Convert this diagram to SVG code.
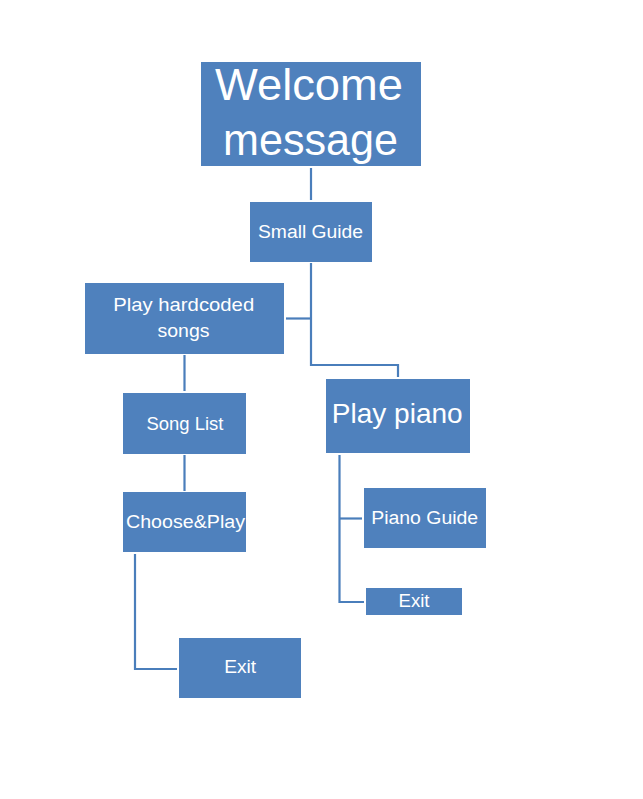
<svg xmlns="http://www.w3.org/2000/svg" width="643" height="799" viewBox="0 0 643 799">
<style>
.box{fill:#4F81BD}
.t{fill:#ffffff;font-family:"Liberation Sans",Arial,sans-serif;text-anchor:middle}
.c{fill:none;stroke:#4A7EBB;stroke-width:2.2}
</style>
<rect x="0" y="0" width="643" height="799" fill="#ffffff"/>
<g id="connectors">
<path class="c" d="M311,168 V200"/>
<path class="c" d="M311,263 V365 H398 V377"/>
<path class="c" d="M286,318.5 H311"/>
<path class="c" d="M184.5,355 V391"/>
<path class="c" d="M184.5,455 V491"/>
<path class="c" d="M135,554 V669 H177"/>
<path class="c" d="M339.5,455 V602 H364"/>
<path class="c" d="M339.5,518.5 H362"/>
</g>
<g id="welcome">
<rect class="box" x="201" y="62" width="220" height="104"/>
<text class="t" x="309" y="100" font-size="45" textLength="188" lengthAdjust="spacingAndGlyphs">Welcome</text>
<text class="t" x="310.5" y="155" font-size="45" textLength="175" lengthAdjust="spacingAndGlyphs">message</text>
</g>
<g id="small-guide">
<rect class="box" x="250" y="202" width="122" height="60"/>
<text class="t" x="310.5" y="237.5" font-size="18" textLength="105" lengthAdjust="spacingAndGlyphs">Small Guide</text>
</g>
<g id="play-hardcoded">
<rect class="box" x="85" y="283" width="199" height="71"/>
<text class="t" x="183.7" y="311" font-size="19" textLength="141" lengthAdjust="spacingAndGlyphs">Play hardcoded</text>
<text class="t" x="183.5" y="336.5" font-size="19" textLength="52" lengthAdjust="spacingAndGlyphs">songs</text>
</g>
<g id="play-piano">
<rect class="box" x="326" y="379" width="144" height="74"/>
<text class="t" x="397.2" y="423.3" font-size="28" textLength="131" lengthAdjust="spacingAndGlyphs">Play piano</text>
</g>
<g id="song-list">
<rect class="box" x="123" y="393" width="123" height="61"/>
<text class="t" x="185" y="430" font-size="18" textLength="77" lengthAdjust="spacingAndGlyphs">Song List</text>
</g>
<g id="choose-play">
<rect class="box" x="123" y="492" width="123" height="60"/>
<text class="t" x="185.5" y="528.3" font-size="18" textLength="119" lengthAdjust="spacingAndGlyphs">Choose&amp;Play</text>
</g>
<g id="piano-guide">
<rect class="box" x="364" y="488" width="122" height="60"/>
<text class="t" x="424.7" y="524" font-size="18" textLength="107" lengthAdjust="spacingAndGlyphs">Piano Guide</text>
</g>
<g id="exit-piano">
<rect class="box" x="366" y="588" width="96" height="27"/>
<text class="t" x="414" y="606.7" font-size="18" textLength="31" lengthAdjust="spacingAndGlyphs">Exit</text>
</g>
<g id="exit-songs">
<rect class="box" x="179" y="638" width="122" height="60"/>
<text class="t" x="240.2" y="673.3" font-size="18" textLength="32" lengthAdjust="spacingAndGlyphs">Exit</text>
</g>
</svg>
